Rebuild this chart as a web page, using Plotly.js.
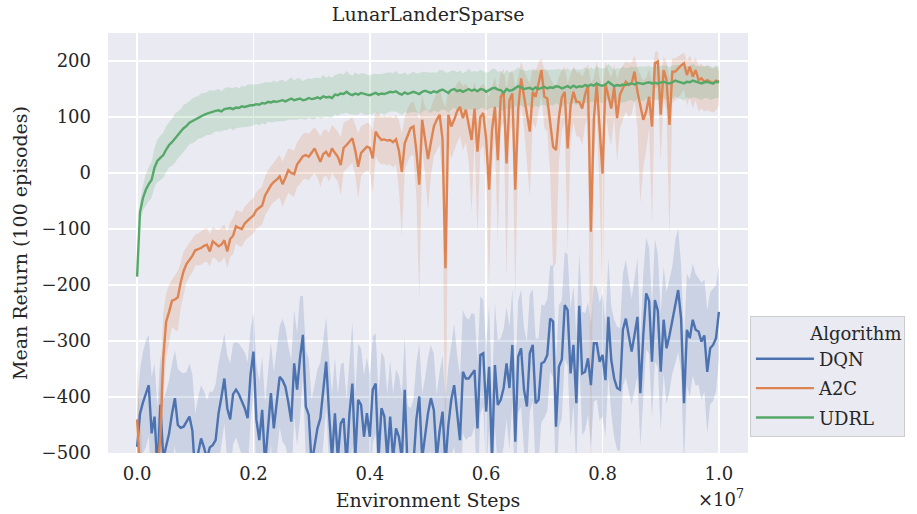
<!DOCTYPE html>
<html>
<head>
<meta charset="utf-8">
<script src="https://cdn.plot.ly/plotly-3.0.1.min.js"></script>
<style>
html,body{margin:0;padding:0;background:#ffffff;}
#chart{width:917px;height:514px;}
</style>
</head>
<body>
<div id="chart"></div>
<script>
// ---- data ----
var seriesNames = ['DQN', 'A2C', 'UDRL'];
var stepSize = 50000;            // environment steps between evaluations
var nPoints = 201;

var xTickVals = [0, 2000000, 4000000, 6000000, 8000000, 10000000];
var xTickText = ['0.0', '0.2', '0.4', '0.6', '0.8', '1.0'];
var yTickVals = [-500, -400, -300, -200, -100, 0, 100, 200];
var yTickText = ['\u2212500', '\u2212400', '\u2212300', '\u2212200', '\u2212100', '0', '100', '200'];

var dqnMean = [
 -489,-430,-410,-395,-379,-465,-435,-530,-414,-510,
 -490,-465,-430,-402,-450,-455,-453,-445,-435,-460,
 -540,-500,-474,-490,-510,-490,-486,-477,-429,-400,
 -367,-420,-440,-395,-387,-395,-408,-420,-438,-360,
 -319,-440,-477,-423,-520,-450,-393,-456,-410,-364,
 -370,-382,-410,-444,-340,-387,-330,-289,-417,-432,
 -520,-490,-456,-438,-390,-337,-430,-510,-429,-510,
 -447,-438,-520,-430,-376,-510,-405,-414,-471,-429,
 -471,-387,-376,-510,-420,-435,-510,-435,-510,-456,
 -471,-510,-387,-530,-540,-520,-440,-399,-510,-470,
 -429,-402,-423,-510,-460,-426,-520,-450,-405,-379,
 -430,-477,-355,-367,-367,-360,-352,-456,-325,-322,
 -426,-346,-510,-343,-414,-405,-384,-340,-384,-307,
 -480,-328,-313,-387,-417,-322,-307,-411,-405,-340,
 -337,-325,-260,-265,-453,-346,-333,-236,-245,-358,
 -307,-411,-237,-358,-355,-331,-379,-304,-304,-337,
 -325,-370,-257,-334,-367,-384,-387,-280,-260,-290,
 -319,-289,-257,-393,-290,-215,-228,-337,-227,-246,
 -355,-262,-313,-290,-262,-230,-209,-260,-411,-280,
 -295,-262,-280,-283,-301,-290,-355,-313,-307,-295,
 -248];
var dqnCi = [
 60,80,90,95,90,100,95,110,90,105,
 100,95,90,85,100,100,95,90,95,100,
 110,100,95,100,105,100,95,100,90,85,
 80,95,100,90,85,90,95,100,100,80,
 70,100,105,95,110,100,90,100,95,90,
 110,105,100,110,95,100,110,70,100,100,
 115,110,105,100,95,80,100,115,100,115,
 105,100,115,100,110,115,100,100,110,100,
 110,95,90,115,100,105,115,100,115,105,
 110,115,95,115,120,115,100,95,115,105,
 100,95,100,115,105,100,115,105,100,110,
 105,115,110,110,105,110,100,120,105,95,
 115,110,115,110,115,110,105,100,110,100,
 120,100,105,110,115,105,100,115,110,105,
 100,100,95,100,120,110,105,95,100,115,
 105,120,95,110,105,100,110,105,100,105,
 110,100,105,95,105,110,110,100,105,100,
 95,100,105,95,110,100,95,100,110,100,
 105,95,100,100,95,110,110,95,110,100,
 105,100,100,95,105,100,110,100,100,95,
 85];

var a2cMean = [
 -440,-560,-620,-640,-630,-600,-580,-540,-470,-330,
 -265,-248,-228,-226,-222,-195,-175,-162,-155,-148,
 -138,-136,-134,-130,-128,-140,-122,-126,-131,-128,
 -120,-140,-118,-112,-95,-98,-100,-90,-84,-80,
 -76,-66,-62,-58,-40,-30,-22,-16,-12,-6,
 -20,-8,5,0,-2,15,22,30,32,29,
 36,44,32,20,34,38,29,44,36,29,
 14,45,50,56,62,40,11,36,41,47,
 45,26,74,65,59,60,58,59,55,60,
 40,2,53,68,80,83,40,-21,95,60,
 25,55,83,95,104,60,-170,104,83,95,
 110,118,98,113,85,59,115,38,100,107,
 60,-30,77,118,23,136,145,17,130,142,
 -30,113,169,136,100,74,145,136,160,184,
 136,133,90,47,41,100,135,145,44,120,
 145,127,127,115,140,157,-105,95,160,80,
 -1,160,135,115,154,98,140,151,163,157,
 160,181,145,120,95,110,136,83,196,199,
 104,184,166,86,181,181,187,192,196,175,
 190,172,184,166,169,163,166,163,160,165,
 163];
var a2cUpper = [
 -340,-430,-520,-560,-560,-540,-500,-450,-370,-250,
 -215,-200,-190,-182,-175,-160,-140,-132,-125,-118,
 -110,-108,-104,-100,-98,-110,-96,-100,-102,-96,
 -92,-105,-88,-80,-66,-68,-70,-60,-54,-48,
 -44,-34,-28,-24,-6,5,12,20,26,32,
 20,32,44,42,40,55,62,70,72,70,
 76,82,74,66,76,78,72,86,80,74,
 64,90,92,96,100,86,70,84,86,90,
 88,76,112,104,100,102,100,102,98,104,
 95,70,100,115,125,128,110,95,140,118,
 110,115,132,140,150,130,118,150,140,148,
 160,165,155,160,150,145,162,140,155,160,
 150,135,155,172,145,180,186,150,178,185,
 150,170,200,182,170,160,188,182,198,205,
 184,182,170,160,155,172,184,190,160,175,
 190,180,180,172,185,195,160,170,200,170,
 150,198,182,170,195,168,185,192,200,196,
 198,210,188,175,165,170,185,165,215,218,
 175,208,198,170,205,205,208,212,215,200,
 210,198,206,192,195,190,192,188,186,190,
 182];
var a2cLower = [
 -560,-620,-680,-700,-700,-680,-660,-620,-560,-410,
 -330,-300,-275,-280,-283,-240,-215,-195,-185,-178,
 -165,-165,-164,-160,-158,-167,-150,-154,-160,-158,
 -150,-170,-150,-145,-126,-130,-132,-122,-116,-112,
 -108,-100,-96,-92,-76,-68,-58,-52,-48,-44,
 -60,-48,-35,-40,-42,-25,-20,-12,-10,-14,
 -6,0,-8,-25,-8,-5,-15,0,-8,-15,
 -40,2,8,12,18,-5,-45,-5,0,5,
 2,-35,30,20,15,16,14,15,10,16,
 -30,-114,5,20,30,32,-40,-227,40,0,
 -66,-5,30,40,50,-20,-560,50,25,40,
 55,65,40,55,20,-70,60,-110,40,50,
 -20,-205,10,60,-125,80,90,-188,70,85,
 -227,50,120,80,20,-42,90,80,110,140,
 80,75,0,-170,-160,20,75,90,-141,55,
 90,65,65,50,85,100,-560,20,110,-40,
 -223,110,70,50,100,20,80,95,110,100,
 105,130,80,-54,10,40,80,-90,150,155,
 20,130,110,-116,125,130,135,140,150,120,
 135,115,130,110,115,110,112,110,108,112,
 120];

var udrlMean = [
 -185,-70,-45,-30,-20,-12,10,22,27,32,
 42,50,55,62,68,74,80,84,90,93,
 96,99,102,104,106,108,109,111,112,110,
 114,115,116,114,117,116,119,118,120,121,
 121,123,122,125,124,127,126,128,127,129,
 130,128,131,133,130,132,133,130,131,134,
 132,133,135,133,137,135,136,134,140,139,
 142,141,145,141,139,142,140,143,141,140,
 139,141,143,140,142,141,143,145,144,146,
 142,140,144,141,143,145,143,141,145,147,
 145,143,146,144,147,149,146,143,148,150,
 146,148,145,147,150,147,149,146,150,149,
 145,148,151,152,149,148,143,150,147,148,
 152,155,153,150,151,152,149,153,150,152,
 154,151,153,152,155,154,151,153,155,152,
 156,153,155,154,157,155,158,156,160,157,
 156,158,163,159,155,157,156,158,157,159,
 160,158,161,160,159,161,162,160,161,160,
 162,163,161,160,162,165,163,161,160,163,
 162,165,163,161,160,162,163,161,160,163,
 162];
var udrlCi = [
 2,15,22,28,30,32,35,38,40,40,
 42,40,42,44,42,40,42,40,38,40,
 40,38,40,39,38,40,38,37,38,36,
 37,38,36,38,37,35,37,36,38,37,
 36,35,37,36,38,35,36,37,35,36,
 37,35,36,38,35,37,36,34,36,35,
 36,37,35,36,38,35,37,36,35,37,
 36,35,37,36,35,38,36,35,37,36,
 35,36,34,36,35,37,36,35,34,36,
 35,37,36,34,35,36,35,37,36,34,
 35,36,34,35,37,35,34,36,35,33,
 34,35,33,34,36,34,33,35,34,33,
 34,33,35,34,32,34,33,35,33,32,
 33,34,32,33,31,33,34,32,33,31,
 32,33,31,32,30,32,33,31,32,30,
 31,32,30,31,32,30,31,29,31,30,
 31,30,32,30,29,31,30,32,30,29,
 30,31,29,30,31,29,30,28,30,29,
 30,29,31,29,30,28,30,29,31,28,
 29,30,28,29,30,28,29,30,28,29,
 28];

// ---- build chart ----
var steps = [];
for (var i = 0; i < nPoints; i++) steps.push(i * stepSize);

var colors = {DQN: '#4c72b0', A2C: '#dd8452', UDRL: '#55a868'};
var fills  = {DQN: 'rgba(76,114,176,0.2)', A2C: 'rgba(221,132,82,0.2)', UDRL: 'rgba(85,168,104,0.2)'};

function addCi(mean, ci, sign) { return mean.map(function (v, k) { return v + sign * ci[k]; }); }

var bands = {
  DQN:  {lo: addCi(dqnMean, dqnCi, -1), hi: addCi(dqnMean, dqnCi, 1)},
  A2C:  {lo: a2cLower, hi: a2cUpper},
  UDRL: {lo: addCi(udrlMean, udrlCi, -1), hi: addCi(udrlMean, udrlCi, 1)}
};
var means = {DQN: dqnMean, A2C: a2cMean, UDRL: udrlMean};

var traces = [];
seriesNames.forEach(function (name) {
  var b = bands[name];
  traces.push({
    x: steps.concat(steps.slice().reverse()),
    y: b.hi.concat(b.lo.slice().reverse()),
    type: 'scatter', mode: 'lines', fill: 'toself',
    fillcolor: fills[name], line: {width: 0, color: fills[name]},
    hoverinfo: 'skip', showlegend: false, legendgroup: name
  });
});
seriesNames.forEach(function (name) {
  traces.push({
    x: steps, y: means[name], name: name,
    type: 'scatter', mode: 'lines',
    line: {color: colors[name], width: 2.4},
    legendgroup: name
  });
});

var fontFam = '"DejaVu Serif", "Liberation Serif", serif';
var legendTitlePad = '\u00a0\u00a0\u00a0\u00a0\u00a0\u00a0\u00a0\u00a0\u00a0\u00a0';
var layout = {
  width: 917, height: 514,
  margin: {l: 108, r: 169, t: 33, b: 61},
  paper_bgcolor: '#ffffff',
  plot_bgcolor: '#eaeaf2',
  font: {family: fontFam, size: 18, color: '#262626'},
  title: {text: 'LunarLanderSparse', font: {family: fontFam, size: 19, color: '#262626'},
          x: 0.467, xanchor: 'center', y: 0.972, yanchor: 'middle'},
  xaxis: {
    range: [-500000, 10500000],
    tickvals: xTickVals, ticktext: xTickText,
    showgrid: true, gridcolor: '#ffffff', gridwidth: 1.6,
    zeroline: false, showline: false, ticks: '',
    ticklabelstandoff: 8,
    tickfont: {size: 18},
    title: {text: 'Environment Steps', font: {size: 19}, standoff: 10}
  },
  yaxis: {
    range: [-500, 250],
    tickvals: yTickVals, ticktext: yTickText,
    showgrid: true, gridcolor: '#ffffff', gridwidth: 1.6,
    zeroline: false, showline: false, ticks: '',
    ticklabelstandoff: 16,
    tickfont: {size: 18},
    title: {text: 'Mean Return (100 episodes)', font: {size: 19}, standoff: 8}
  },
  legend: {
    x: 1.003, xanchor: 'left', y: 0.326, yanchor: 'top',
    bgcolor: '#eaeaf2', bordercolor: '#cccccc', borderwidth: 1,
    font: {size: 18},
    itemwidth: 58,
    title: {text: legendTitlePad + 'Algorithm', side: 'top', font: {size: 18}},
    tracegroupgap: 3
  },
  annotations: [{
    text: '\u00d710<sup>7</sup>', xref: 'x', yref: 'paper',
    x: 10000000, y: -0.107, xshift: 2, yanchor: 'middle', xanchor: 'center',
    showarrow: false, font: {size: 18}
  }],
  showlegend: true
};

Plotly.newPlot('chart', traces, layout, {displayModeBar: false, staticPlot: true});
</script>
</body>
</html>
